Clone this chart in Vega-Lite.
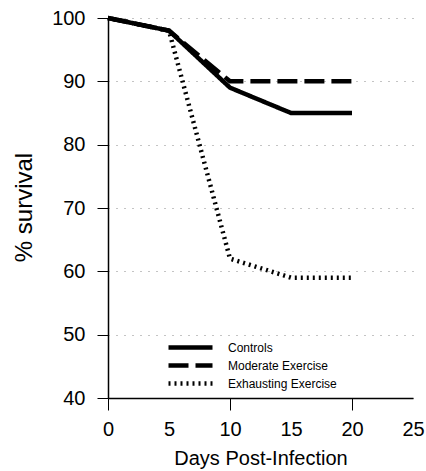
{
  "$schema": "https://vega.github.io/schema/vega-lite/v6.json",
  "autosize": "none",
  "width": 305,
  "height": 380,
  "padding": {"left": 108, "top": 18, "right": 13, "bottom": 73},
  "background": "white",
  "config": {
    "view": {"stroke": null},
    "font": "Liberation Sans"
  },
  "data": {
    "values": [
      {"series": "Exhausting Exercise", "day": 0, "survival": 100},
      {"series": "Exhausting Exercise", "day": 5, "survival": 98},
      {"series": "Exhausting Exercise", "day": 10, "survival": 62},
      {"series": "Exhausting Exercise", "day": 15, "survival": 59},
      {"series": "Exhausting Exercise", "day": 20, "survival": 59},
      {"series": "Moderate Exercise", "day": 0, "survival": 100},
      {"series": "Moderate Exercise", "day": 5, "survival": 98},
      {"series": "Moderate Exercise", "day": 10, "survival": 90},
      {"series": "Moderate Exercise", "day": 15, "survival": 90},
      {"series": "Moderate Exercise", "day": 20, "survival": 90},
      {"series": "Controls", "day": 0, "survival": 100},
      {"series": "Controls", "day": 5, "survival": 98},
      {"series": "Controls", "day": 10, "survival": 89},
      {"series": "Controls", "day": 15, "survival": 85},
      {"series": "Controls", "day": 20, "survival": 85}
    ]
  },
  "mark": {"type": "line", "color": "black", "strokeCap": "butt"},
  "encoding": {
    "x": {
      "field": "day", "type": "quantitative",
      "scale": {"domain": [0, 25], "nice": false},
      "axis": {
        "values": [0, 5, 10, 15, 20, 25],
        "grid": false,
        "domainColor": "black",
        "domainWidth": 1.5,
        "tickColor": "black",
        "tickSize": 12,
        "tickOpacity": {"condition": {"test": "datum.value % 10 === 0", "value": 1}, "value": 0},
        "labelFontSize": 20,
        "labelColor": "black",
        "labelPadding": 9,
        "labelFlush": false,
        "title": "Days Post-Infection",
        "titleFontSize": 20,
        "titleFontWeight": "normal",
        "titleColor": "black",
        "titleBaseline": "alphabetic",
        "titleY": 66
      }
    },
    "y": {
      "field": "survival", "type": "quantitative",
      "scale": {"domain": [40, 100], "nice": false},
      "axis": {
        "values": [40, 50, 60, 70, 80, 90, 100],
        "grid": true,
        "gridColor": "#888888",
        "gridDash": [1, 7],
        "gridWidth": 1,
        "domainColor": "black",
        "domainWidth": 1.5,
        "tickColor": "black",
        "tickSize": 11,
        "labelFontSize": 20,
        "labelColor": "black",
        "labelPadding": 12,
        "title": "% survival",
        "titleFontSize": 24,
        "titleFontWeight": "normal",
        "titleColor": "black",
        "titleAngle": -90,
        "titleAlign": "center",
        "titleBaseline": "middle",
        "titleX": -84,
        "titleY": 189
      }
    },
    "detail": {"field": "series"},
    "strokeDash": {
      "field": "series", "type": "nominal",
      "scale": {
        "domain": ["Controls", "Moderate Exercise", "Exhausting Exercise"],
        "range": [[1, 0], [20, 7], [2, 4]]
      },
      "legend": {
        "title": null,
        "orient": "none",
        "legendX": 75,
        "legendY": 322,
        "symbolType": "M-4.4,0H4.4",
        "symbolSize": 100,
        "symbolStrokeColor": "black",
        "symbolStrokeWidth": 4,
        "labelFontSize": 12,
        "labelColor": "black",
        "labelOffset": 30,
        "rowPadding": -1,
        "padding": 0
      }
    },
    "strokeWidth": {
      "field": "series", "type": "nominal",
      "scale": {
        "domain": ["Controls", "Moderate Exercise", "Exhausting Exercise"],
        "range": [4.5, 4.5, 3]
      },
      "legend": null
    },
    "order": {"field": "series", "sort": "ascending"}
  }
}
